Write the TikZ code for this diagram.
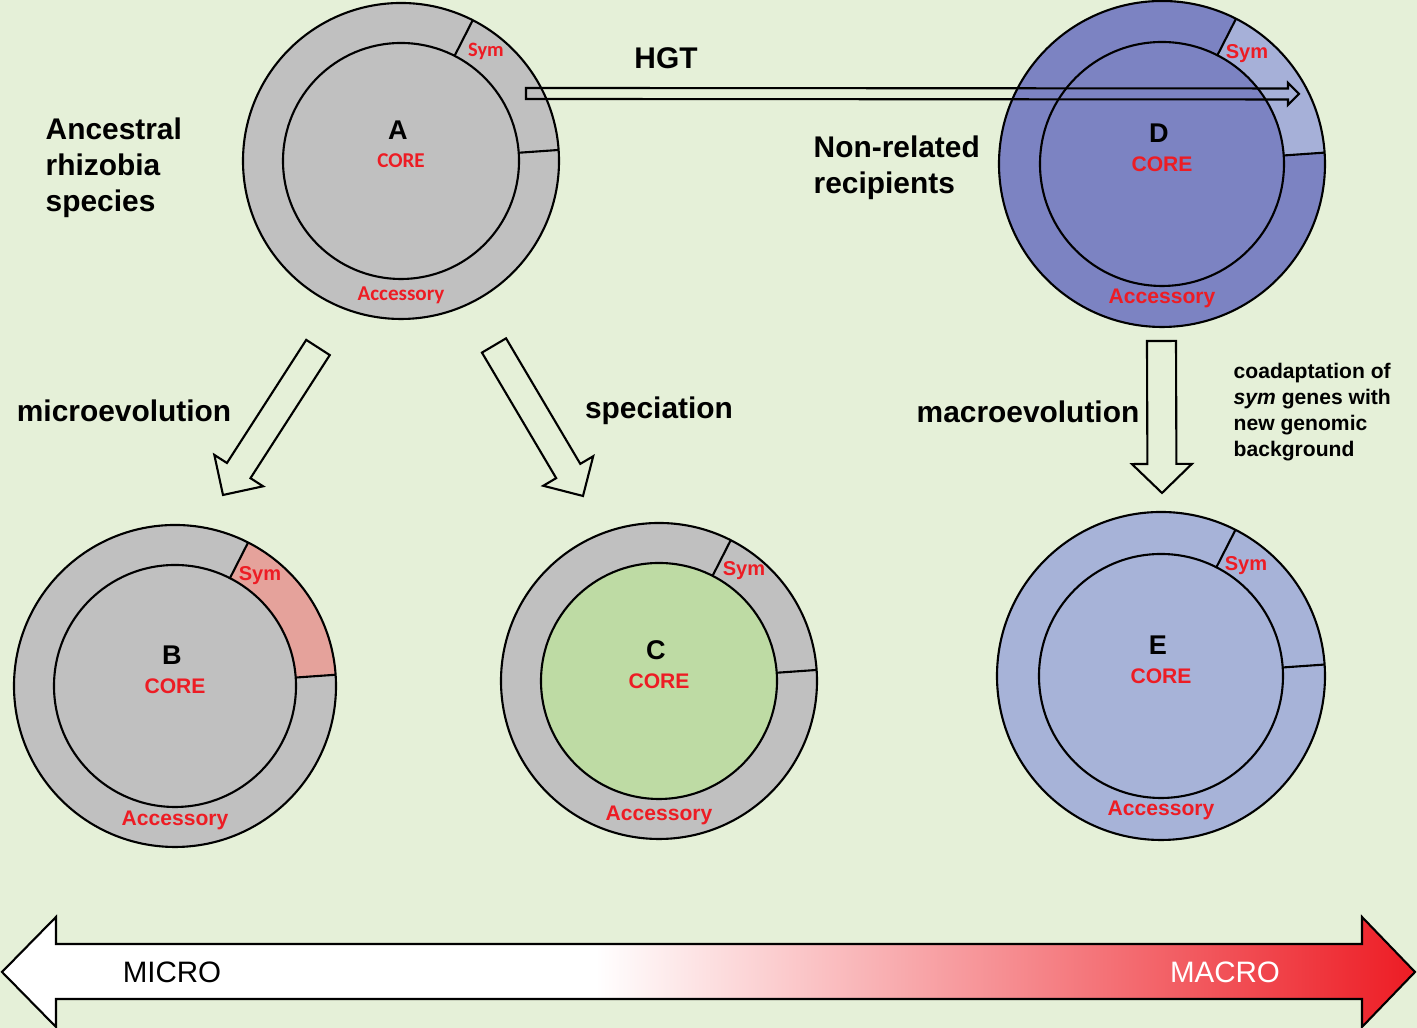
\documentclass[tikz,border=0pt]{standalone}
\usepackage{fontspec}
\setmainfont{Liberation Sans}
\newfontfamily\calibri{Carlito}
\usetikzlibrary{calc}

\definecolor{bgcol}{RGB}{229,240,216}
\definecolor{ringgray}{RGB}{192,192,192}
\definecolor{symsalmon}{RGB}{229,162,155}
\definecolor{coregreen}{RGB}{190,219,164}
\definecolor{recipblue}{RGB}{124,131,194}
\definecolor{symblue}{RGB}{166,176,216}
\definecolor{paleblue}{RGB}{167,179,216}
\definecolor{labelred}{RGB}{237,28,36}

\pgfdeclarehorizontalshading{microtomacro}{100bp}{color(0bp)=(white); color(25bp)=(white); color(46bp)=(white); color(75bp)=(labelred); color(100bp)=(labelred)}

\tikzset{
  ringline/.style={line width=0.6pt, black},
  blockline/.style={line width=0.6pt, black, line join=miter},
  genomeletter/.style={font=\fontsize{7.7}{9}\selectfont\bfseries, inner sep=0pt},
  genomepart/.style={font=\fontsize{6}{7}\selectfont\bfseries, text=labelred, inner sep=0pt},
  genomesym/.style={font=\fontsize{5.7}{7}\selectfont\bfseries, text=labelred, inner sep=0pt},
  biglabel/.style={font=\fontsize{8.5}{10.2}\selectfont\bfseries, align=left, inner sep=0pt},
  notelabel/.style={font=\fontsize{6}{7.4}\selectfont\bfseries, align=left, inner sep=0pt},
  scalelabel/.style={font=\fontsize{8.4}{10}\selectfont, inner sep=0pt},
}

% genome: centre, outer radius, inner radius, ring colour, core colour, sym colour, letter
\newcommand{\genome}[7]{
  \fill[#4] (#1) circle (#2);
  \fill[#6] ($(#1)+(4:#2)$) arc[start angle=4, end angle=63, radius=#2]
    -- ($(#1)+(63:#3)$) arc[start angle=63, end angle=4, radius=#3] -- cycle;
  \draw[ringline] (#1) circle (#2);
  \draw[ringline, fill=#5] (#1) circle (#3);
  \draw[ringline] ($(#1)+(4:#3)$) -- ($(#1)+(4:#2)$);
  \draw[ringline] ($(#1)+(63:#3)$) -- ($(#1)+(63:#2)$);
  \node[genomeletter] (#1-name) at ($(#1)+(-3,31)$) {#7};
  \node[genomepart] (#1-core) at (#1) {CORE};
  \node[genomepart] (#1-acc) at ($(#1)+(0,-134)$) {Accessory};
  \node[genomesym] (#1-sym) at ($(#1)+(85,110)$) {Sym};
}

% hollow block arrow: from, to, shaft half width, head half width, head length
\newcommand{\hollowarrow}[5]{
  \coordinate (ha-base) at ($(#2)!#5!(#1)$);
  \draw[blockline] ($(#1)!#3!90:(#2)$) -- ($(ha-base)!#3!90:(#2)$) -- ($(ha-base)!#4!90:(#2)$)
    -- (#2) -- ($(ha-base)!#4!-90:(#2)$) -- ($(ha-base)!#3!-90:(#2)$) -- ($(#1)!#3!-90:(#2)$) -- cycle;
}

\begin{document}
\begin{tikzpicture}[x=0.01cm, y=0.01cm]
  \useasboundingbox (0,0) rectangle (1417,1028);
  \fill[bgcol] (0,0) rectangle (1417,1028);

  % genome centres
  \coordinate (A) at (401,867);
  \coordinate (B) at (175,342);
  \coordinate (C) at (659,347);
  \coordinate (D) at (1162,864);
  \coordinate (E) at (1161,352);

  \begin{scope}[genomepart/.append style={font=\calibri\fontsize{6}{7}\selectfont\bfseries},
                genomesym/.append style={font=\calibri\fontsize{5.8}{7}\selectfont\bfseries}]
    \genome{A}{158}{118}{ringgray}{ringgray}{ringgray}{A}
  \end{scope}
  \genome{B}{161}{121}{ringgray}{ringgray}{symsalmon}{B}
  \genome{C}{158}{118}{ringgray}{coregreen}{ringgray}{C}
  \genome{D}{163}{122}{recipblue}{recipblue}{symblue}{D}
  \genome{E}{164}{122}{paleblue}{paleblue}{paleblue}{E}

  % labels
  \node[biglabel, anchor=west] (ancestral) at (45,860) {Ancestral\\rhizobia\\species};
  \node[biglabel, anchor=west] (recipients) at (813,860) {Non-related\\recipients};
  \node[biglabel] (hgt) at (666,970) {HGT};
  \node[biglabel] (microevo) at (124,617) {microevolution};
  \node[biglabel] (speciation) at (659,617) {speciation};
  \node[biglabel] (macroevo) at (1028,616) {macroevolution};
  \node[notelabel, anchor=west] (coadapt) at (1233,616) {coadaptation of\\\textit{sym} genes with\\new genomic\\background};

  % arrows
  \coordinate (hgt-start) at (526,934.5);
  \coordinate (hgt-end) at (1299,934);
  \coordinate (micro-start) at (318,680.5);
  \coordinate (micro-end) at (223,533);
  \coordinate (spec-start) at (494,682.5);
  \coordinate (spec-end) at (583,532);
  \coordinate (macro-start) at (1161.5,687);
  \coordinate (macro-end) at (1162,535);
  \hollowarrow{hgt-start}{hgt-end}{0.055cm}{0.11cm}{0.11cm}
  \hollowarrow{micro-start}{micro-end}{0.14cm}{0.29cm}{0.29cm}
  \hollowarrow{spec-start}{spec-end}{0.14cm}{0.29cm}{0.29cm}
  \hollowarrow{macro-start}{macro-end}{0.145cm}{0.3cm}{0.29cm}

  % micro - macro scale
  \coordinate (scale-left) at (2,56);
  \coordinate (scale-right) at (1415,56);
  \draw[blockline, shade, shading=microtomacro] (scale-left) -- (56,111) -- (56,84) -- (1362,84)
    -- (1362,111) -- (scale-right) -- (1362,1) -- (1362,29) -- (56,29) -- (56,1) -- cycle;
  \node[scalelabel] (micro-text) at (172,56) {MICRO};
  \node[scalelabel, text=white] (macro-text) at (1225,56) {MACRO};
\end{tikzpicture}
\end{document}
